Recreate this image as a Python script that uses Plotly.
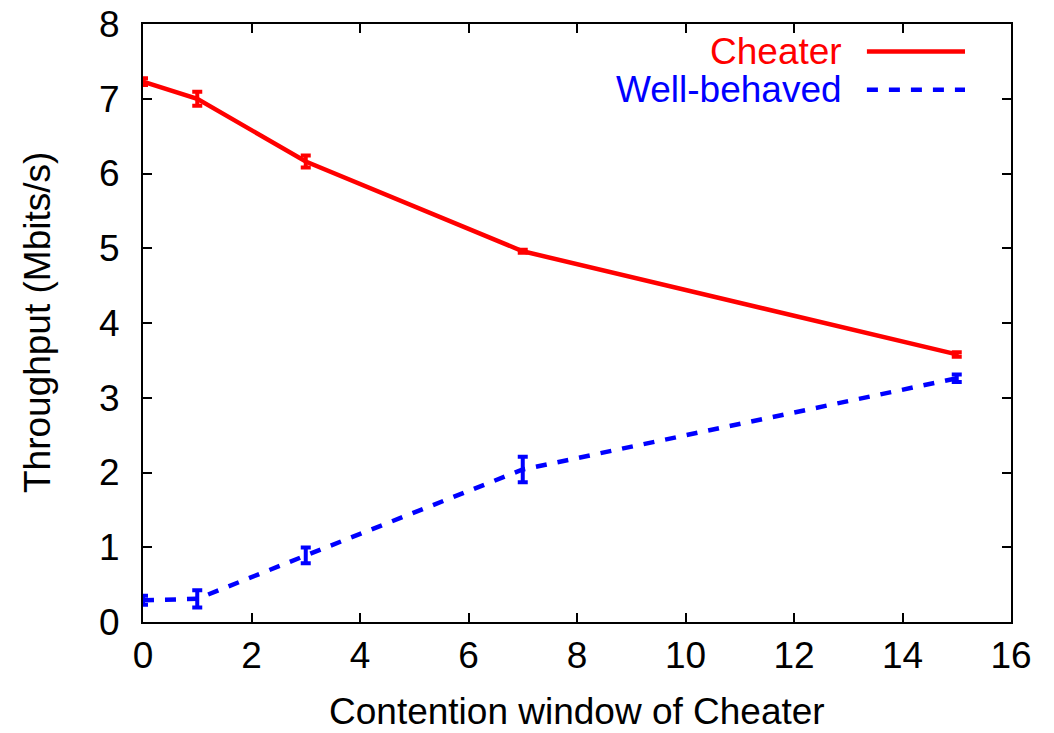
import plotly.graph_objects as go

# Contention window values of the cheating node
cw = [0, 1, 3, 7, 15]

# Mean throughput (Mbits/s) and error half-widths
cheater = [7.23, 7.0, 6.16, 4.96, 3.58]
cheater_err = [0.045, 0.095, 0.08, 0.02, 0.03]
wellbehaved = [0.29, 0.31, 0.89, 2.04, 3.26]
wellbehaved_err = [0.06, 0.115, 0.105, 0.17, 0.05]

x_ticks = [0, 2, 4, 6, 8, 10, 12, 14, 16]
y_ticks = [0, 1, 2, 3, 4, 5, 6, 7, 8]

RED = "#ff0000"
BLUE = "#0000ff"
DASH = "11px,11px"
FONT = "Liberation Sans, Arial, sans-serif"
FS = 37

fig = go.Figure()
fig.add_trace(go.Scatter(
    x=cw, y=cheater, mode="lines", name="Cheater",
    line=dict(color=RED, width=4.5),
    error_y=dict(type="data", array=cheater_err, color=RED, thickness=4, width=5),
))
fig.add_trace(go.Scatter(
    x=cw, y=wellbehaved, mode="lines", name="Well-behaved",
    line=dict(color=BLUE, width=4.5, dash=DASH),
    error_y=dict(type="data", array=wellbehaved_err, color=BLUE, thickness=4, width=5),
))

axis_common = dict(
    showline=True, linecolor="black", linewidth=2, mirror="ticks",
    ticks="inside", ticklen=9, tickwidth=1.5, tickcolor="black",
    showgrid=False, zeroline=False, automargin=False,
    tickfont=dict(family=FONT, size=FS, color="black"),
)

fig.update_xaxes(range=[0, 16], tickvals=x_ticks, ticktext=[str(v) for v in x_ticks],
                 ticklabelstandoff=0, **axis_common)
fig.update_yaxes(range=[0, 8], tickvals=y_ticks, ticktext=[str(v) for v in y_ticks],
                 ticklabelstandoff=14, **axis_common)

# Axis titles
fig.add_annotation(xref="paper", yref="paper", x=0.5, y=-0.150,
                   text="Contention window of Cheater", showarrow=False,
                   xanchor="center", yanchor="middle",
                   font=dict(family=FONT, size=FS, color="black"))
fig.add_annotation(xref="paper", yref="paper", x=-0.1221, y=0.5,
                   text="Throughput (Mbits/s)", showarrow=False, textangle=-90,
                   xanchor="center", yanchor="middle",
                   font=dict(family=FONT, size=FS, color="black"))

# Key in the upper right: label text on the left, line sample on the right
legend_rows = [("Cheater", RED, "solid", 0.954), ("Well-behaved", BLUE, DASH, 0.890)]
for label, color, dash, yp in legend_rows:
    fig.add_annotation(xref="paper", yref="paper", x=0.808, y=yp, text=label,
                       showarrow=False, xanchor="right", yanchor="middle",
                       font=dict(family=FONT, size=FS, color=color))
    fig.add_shape(type="line", xref="paper", yref="paper", x0=0.834, x1=0.947,
                  y0=yp, y1=yp, line=dict(color=color, width=4.5, dash=dash))

fig.update_layout(
    width=1054, height=733,
    margin=dict(l=143, r=43, t=24, b=111),
    paper_bgcolor="white", plot_bgcolor="white",
    showlegend=False,
    font=dict(family=FONT, size=FS, color="black"),
)

fig.write_html("out.html")
